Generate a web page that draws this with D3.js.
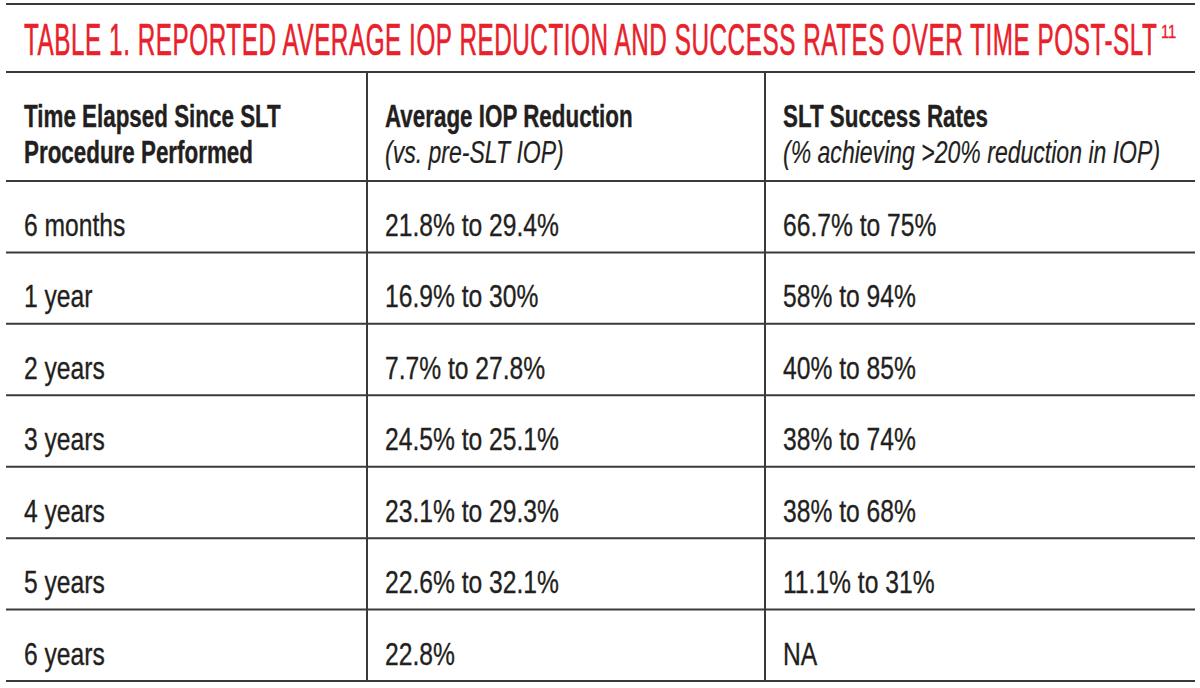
<!DOCTYPE html>
<html>
<head>
<meta charset="utf-8">
<script src="https://cdn.jsdelivr.net/npm/d3@7"></script>
<style>
  html, body { margin: 0; padding: 0; background: #fff; }
  svg { display: block; }
</style>
</head>
<body>
<svg id="chart" width="1200" height="688"></svg>
<script>
// ---- data ----
const titleText = "TABLE 1. REPORTED AVERAGE IOP REDUCTION AND SUCCESS RATES OVER TIME POST-SLT";
const titleRef = "11";
const headerMain = [["Time Elapsed Since SLT", "Procedure Performed"], ["Average IOP Reduction"], ["SLT Success Rates"]];
const headerSub = [null, "(vs. pre-SLT IOP)", "(% achieving >20% reduction in IOP)"];
const timeElapsed = ["6 months", "1 year", "2 years", "3 years", "4 years", "5 years", "6 years"];
const iopReduction = ["21.8% to 29.4%", "16.9% to 30%", "7.7% to 27.8%", "24.5% to 25.1%", "23.1% to 29.3%", "22.6% to 32.1%", "22.8%"];
const successRates = ["66.7% to 75%", "58% to 94%", "40% to 85%", "38% to 74%", "38% to 68%", "11.1% to 31%", "NA"];

// ---- layout ----
const W = 1200, H = 688;
const left = 6, right = 1195;
const topLine = 4, titleBottom = 72, headerBottom = 181, tableBottom = 681;
const colEdges = [left, 367, 765, right];
const textPad = 18;
const ink = "#231f20", red = "#e8212b", rule = "#3a3a3a";
const font = "'Liberation Sans', Arial, sans-serif";

const svg = d3.select("#chart");

const y = d3.scaleBand().domain(d3.range(timeElapsed.length)).range([headerBottom, tableBottom]).padding(0);
const colX = i => colEdges[i] + textPad;

function condensedText(g, str, x, yy, opts) {
  const fill = opts.fill || ink;
  return g.append("text")
    .attr("transform", `translate(${x},${yy}) scale(${opts.sx},1)`)
    .attr("font-family", font)
    .attr("font-size", opts.size)
    .attr("font-weight", opts.weight || "normal")
    .attr("font-style", opts.style || "normal")
    .attr("fill", fill)
    .attr("stroke", fill)
    .attr("stroke-width", opts.sw || 0)
    .attr("stroke-linejoin", "round")
    .text(str);
}

// ---- rules ----
const rules = svg.append("g").attr("stroke", rule).attr("stroke-width", 2);
[topLine, titleBottom, headerBottom].concat(d3.range(timeElapsed.length).map(i => y(i) + y.bandwidth()))
  .forEach(yy => rules.append("line").attr("x1", left).attr("x2", right).attr("y1", yy).attr("y2", yy));
[colEdges[1], colEdges[2]].forEach(xx =>
  rules.append("line").attr("x1", xx).attr("x2", xx).attr("y1", titleBottom).attr("y2", tableBottom));

// ---- title ----
const tg = svg.append("g");
const titleEl = tg.append("text")
  .attr("font-family", font).attr("font-size", 44).attr("fill", red)
  .attr("stroke", red).attr("stroke-width", 0.6).attr("stroke-linejoin", "round")
  .attr("letter-spacing", 1)
  .text(titleText);
const natural = titleEl.node().getComputedTextLength();
const titleWidth = 1134;
const tsx = titleWidth / natural;
titleEl.attr("transform", `translate(${textPad + left},55) scale(${tsx},1)`);
tg.append("text")
  .attr("transform", `translate(${textPad + left + titleWidth + 3},38) scale(0.82,1)`)
  .attr("font-family", font).attr("font-size", 18).attr("fill", red)
  .attr("stroke", red).attr("stroke-width", 0.3)
  .text(titleRef);

// ---- header ----
const hg = svg.append("g");
headerMain.forEach((lines, c) => {
  lines.forEach((ln, k) => condensedText(hg, ln, colX(c), 127 + k * 36, { sx: 0.70, size: 32, weight: "bold", sw: 0.4 }));
  if (headerSub[c]) condensedText(hg, headerSub[c], colX(c), 163, { sx: 0.72, size: 32, style: "italic", sw: 0.2 });
});

// ---- body ----
const bg = svg.append("g");
const cols = [timeElapsed, iopReduction, successRates];
cols.forEach((arr, c) => {
  arr.forEach((v, i) => condensedText(bg, v, colX(c), y(i) + 55, { sx: 0.77, size: 32, sw: 0.35 }));
});
</script>
</body>
</html>
